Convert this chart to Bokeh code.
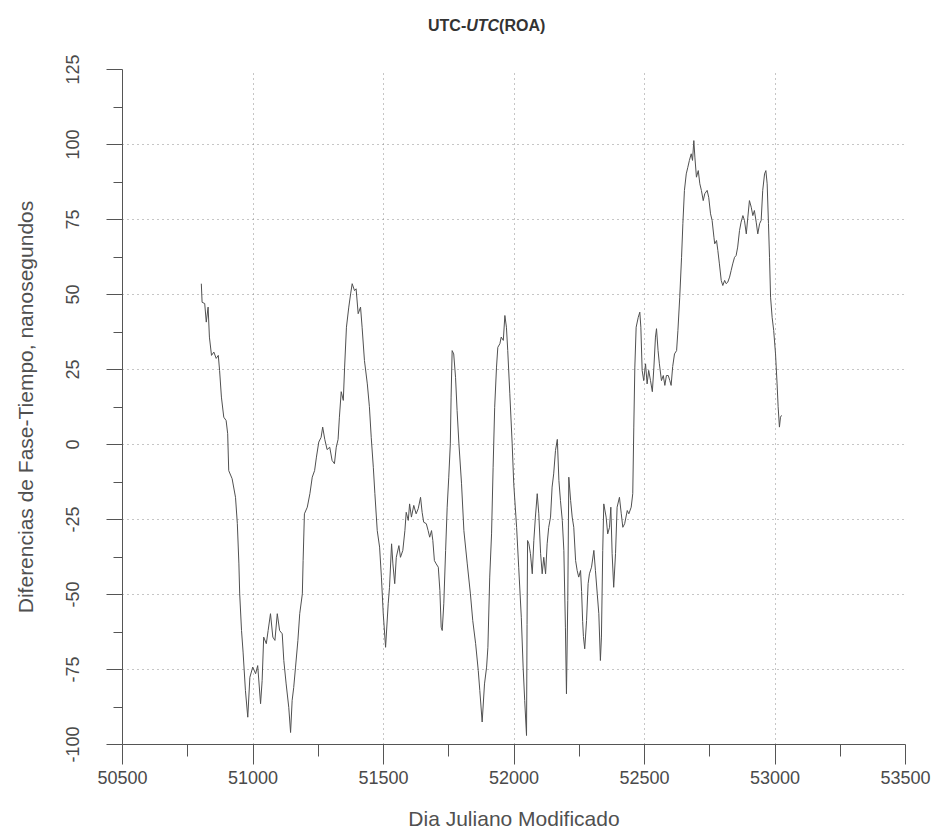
from bokeh.plotting import figure
from bokeh.models import Range1d, FixedTicker, Div
from bokeh.layouts import column
from bokeh.embed import file_html
from bokeh.resources import INLINE

# MJD and UTC-UTC(ROA) phase-time differences (ns)
mjd = [50802, 50805, 50815, 50821, 50828, 50833, 50841, 50850, 50859, 50867,
       50872, 50879, 50888, 50897, 50903, 50907, 50920, 50933, 50940, 50946,
       50949, 50956, 50962, 50971, 50980, 50988, 50999, 51010, 51018, 51029,
       51035, 51041, 51051, 51058, 51067, 51076, 51084, 51093, 51102, 51112,
       51118, 51127, 51137, 51144, 51150, 51156, 51163, 51172, 51179, 51189,
       51192, 51197, 51208, 51218, 51227, 51236, 51243, 51252, 51261, 51267,
       51275, 51284, 51294, 51303, 51312, 51319, 51326, 51331, 51338, 51346,
       51351, 51358, 51367, 51374, 51380, 51389, 51395, 51403, 51412, 51418,
       51427, 51438, 51446, 51453, 51461, 51467, 51476, 51485, 51492, 51499,
       51508, 51518, 51523, 51531, 51536, 51543, 51549, 51559, 51565, 51574,
       51582, 51587, 51595, 51600, 51607, 51616, 51625, 51633, 51642, 51648,
       51654, 51664, 51671, 51677, 51684, 51689, 51695, 51702, 51710, 51716,
       51721, 51725, 51731, 51738, 51744, 51750, 51756, 51759, 51763, 51769,
       51776, 51782, 51789, 51799, 51808, 51821, 51833, 51842, 51853, 51863,
       51869, 51878, 51887, 51895, 51900, 51907, 51914, 51920, 51926, 51933,
       51938, 51946, 51951, 51959, 51965, 51971, 51976, 51984, 51993, 51999,
       52010, 52018, 52028, 52035, 52041, 52048, 52050, 52052, 52057, 52063,
       52070, 52076, 52082, 52089, 52095, 52102, 52108, 52114, 52121, 52127,
       52133, 52140, 52146, 52152, 52159, 52166, 52172, 52178, 52185, 52191,
       52197, 52201, 52206, 52210, 52217, 52223, 52229, 52236, 52242, 52248,
       52255, 52259, 52263, 52266, 52271, 52278, 52284, 52289, 52297, 52306,
       52312, 52319, 52325, 52331, 52335, 52340, 52344, 52353, 52359, 52366,
       52371, 52376, 52382, 52389, 52395, 52404, 52411, 52417, 52424, 52434,
       52440, 52449, 52455, 52459, 52463, 52468, 52476, 52482, 52486, 52491,
       52497, 52504, 52510, 52516, 52523, 52530, 52536, 52542, 52546, 52552,
       52557, 52565, 52572, 52578, 52584, 52591, 52597, 52602, 52608, 52615,
       52623, 52628, 52635, 52642, 52647, 52653, 52660, 52666, 52672, 52679,
       52684, 52689, 52693, 52699, 52706, 52712, 52718, 52725, 52731, 52740,
       52746, 52753, 52759, 52766, 52769, 52776, 52781, 52787, 52794, 52800,
       52807, 52813, 52819, 52826, 52832, 52838, 52845, 52851, 52857, 52864,
       52870, 52877, 52883, 52890, 52896, 52902, 52909, 52915, 52921, 52928,
       52934, 52941, 52947, 52953, 52960, 52965, 52970, 52975, 52979, 52983,
       52989, 52995, 53002, 53008, 53012, 53017, 53021, 53025]

ns = [53.6, 47.4, 47.0, 40.8, 45.8, 35.8, 29.7, 30.8, 28.7, 29.7,
      24.7, 15.8, 9.1, 8.0, 3.6, -8.7, -11.4, -17.6, -26.4, -39.8,
      -49.8, -62.0, -69.2, -82.0, -90.9, -77.6, -74.2, -76.4, -73.7, -86.4,
      -78.7, -64.2, -66.4, -62.0, -56.4, -64.2, -65.3, -56.4, -62.0, -63.1,
      -72.0, -79.8, -87.6, -96.0, -85.3, -81.0, -74.2, -65.3, -56.4, -49.8,
      -38.7, -23.1, -20.9, -16.4, -10.9, -8.7, -4.2, 0.8, 2.4, 5.8,
      1.7, -1.7, -0.9, -5.3, -6.4, -0.9, 1.7, 9.1, 17.6, 14.7,
      25.8, 39.1, 45.8, 50.2, 53.6, 51.3, 51.9, 43.6, 45.8, 39.1,
      28.0, 20.2, 12.6, 2.4, -7.6, -16.4, -28.7, -34.2, -44.2, -56.4,
      -67.6, -53.1, -47.6, -33.1, -39.8, -46.4, -37.6, -33.7, -37.6, -35.3,
      -28.7, -22.6, -25.3, -19.8, -24.2, -20.3, -23.1, -21.4, -17.6, -22.6,
      -25.9, -26.4, -28.7, -30.9, -28.7, -32.0, -38.7, -39.8, -40.9, -48.7,
      -60.9, -62.0, -53.1, -35.3, -20.9, -10.9, 0.2, 15.8, 31.3, 30.2,
      22.4, 11.3, 0.2, -13.1, -28.7, -39.8, -49.8, -58.7, -66.4, -75.3,
      -82.0, -92.5, -79.8, -74.2, -67.6, -44.2, -29.8, -7.6, 12.4, 25.8,
      32.4, 33.6, 35.8, 34.7, 43.0, 39.1, 31.3, 16.9, 0.2, -13.1,
      -27.6, -40.9, -57.6, -74.2, -85.3, -97.0, -60.0, -32.0, -33.1, -36.4,
      -43.1, -32.0, -24.2, -16.4, -23.1, -36.4, -43.1, -37.6, -43.1, -33.1,
      -27.6, -24.2, -14.2, -9.8, -2.0, 1.7, -12.0, -18.7, -25.3, -35.3,
      -60.9, -83.1, -52.0, -10.9, -18.7, -24.2, -27.6, -38.7, -42.0, -44.2,
      -42.0, -49.0, -59.0, -64.0, -68.1, -58.7, -46.4, -43.1, -40.9, -35.3,
      -42.0, -49.8, -56.4, -72.0, -64.2, -35.3, -19.8, -24.2, -29.8, -27.6,
      -20.9, -36.4, -47.6, -36.4, -20.9, -17.6, -23.1, -27.6, -26.4, -22.0,
      -23.1, -20.9, -16.4, 5.8, 25.8, 39.1, 42.4, 44.1, 39.1, 24.7,
      21.3, 26.9, 20.2, 24.7, 21.3, 17.6, 25.8, 35.8, 38.6, 31.3,
      26.9, 21.3, 23.0, 19.7, 23.0, 23.0, 21.3, 19.7, 26.0, 30.2,
      31.3, 38.0, 49.1, 62.4, 73.6, 84.7, 90.2, 92.4, 94.7, 96.9,
      94.7, 101.3, 95.8, 89.1, 91.3, 86.9, 84.7, 81.3, 83.6, 84.7,
      82.4, 76.9, 74.7, 69.1, 66.9, 68.0, 64.7, 60.2, 54.7, 53.0,
      54.7, 53.6, 54.1, 55.8, 58.0, 60.2, 62.4, 63.0, 65.8, 71.3,
      74.1, 76.3, 74.7, 70.2, 75.8, 81.3, 79.1, 76.3, 78.0, 74.1,
      70.2, 73.6, 74.7, 84.7, 90.2, 91.3, 86.9, 73.6, 62.4, 49.1,
      42.4, 38.0, 30.2, 20.2, 12.6, 5.8, 9.1, 9.7]

x_ticks = [50500, 51000, 51500, 52000, 52500, 53000, 53500]
x_minor = [50750, 51250, 51750, 52250, 52750, 53250]
y_ticks = [-100, -75, -50, -25, 0, 25, 50, 75, 100, 125]
y_minor = [-87.5, -62.5, -37.5, -12.5, 12.5, 37.5, 62.5, 87.5, 112.5]
y_tick_text = ["-100", "-75", "-50", "-25", "0", "25", "50", "75", "100", "125"]

FONT = "Liberation Sans"
TXT = "#4a4a4a"

title = Div(
    text=('<div style="position:relative;width:942px;height:50px;">'
          '<span style="position:absolute;left:428px;top:17px;white-space:nowrap;'
          'font-family:\'Liberation Sans\';font-weight:bold;font-size:16px;'
          'line-height:18px;color:#333333;">UTC-<i>UTC</i>(ROA)</span></div>'),
    width=942, height=50, margin=0)

p = figure(width=942, height=790, output_backend="svg", toolbar_location=None,
           x_range=Range1d(50500, 53500), y_range=Range1d(-100, 125),
           min_border_left=122, min_border_right=37, min_border_top=19,
           min_border_bottom=96, margin=0)
p.outline_line_color = None
p.background_fill_color = "white"
p.border_fill_color = "white"

p.xaxis.ticker = FixedTicker(ticks=x_ticks, minor_ticks=x_minor)
p.yaxis.ticker = FixedTicker(ticks=y_ticks, minor_ticks=y_minor)
p.yaxis.major_label_overrides = {t: s for t, s in zip(y_ticks, y_tick_text)}
p.xgrid.ticker = FixedTicker(ticks=x_ticks)
p.ygrid.ticker = FixedTicker(ticks=y_ticks)

for g in (p.xgrid, p.ygrid):
    g.grid_line_color = "#8c8c8c"
    g.grid_line_dash = "1 4"
    g.grid_line_width = 1

for ax in (p.xaxis, p.yaxis):
    ax.axis_line_color = "#555555"
    ax.major_tick_line_color = "#555555"
    ax.minor_tick_line_color = "#555555"
    ax.major_tick_in = 0
    ax.minor_tick_in = 0
    ax.major_label_text_font = FONT
    ax.major_label_text_font_size = "18px"
    ax.major_label_text_color = TXT
    ax.axis_label_text_font = FONT
    ax.axis_label_text_font_size = "21px"
    ax.axis_label_text_font_style = "normal"
    ax.axis_label_text_color = "#505050"

p.xaxis.major_tick_out = 20
p.xaxis.minor_tick_out = 12
p.xaxis.major_label_standoff = 6
p.xaxis.axis_label = "Dia Juliano Modificado"
p.xaxis.axis_label_standoff = 20

p.yaxis.major_tick_out = 16
p.yaxis.minor_tick_out = 9
p.yaxis.major_label_orientation = "vertical"
p.yaxis.major_label_standoff = 28
p.yaxis.axis_label = "Diferencias de Fase-Tiempo, nanosegundos"
p.yaxis.axis_label_standoff = 26

p.line(mjd, ns, line_color="#505050", line_width=1)

layout = column(title, p, spacing=0, margin=0)
open("out.html", "w").write(file_html(layout, INLINE))
